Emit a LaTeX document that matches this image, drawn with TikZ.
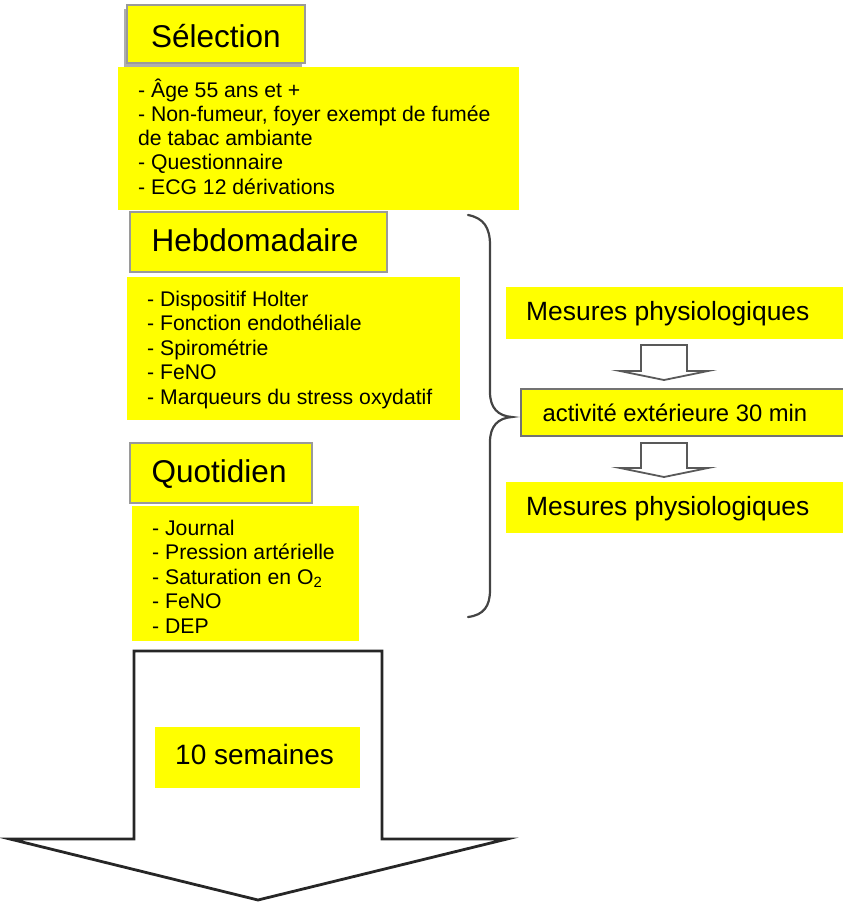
\documentclass[tikz,border=0pt]{standalone}
\usepackage{fontspec}
\setmainfont{Liberation Sans}
\definecolor{ylw}{HTML}{FFFF00}
\definecolor{bordergray}{HTML}{9A9A9A}
\definecolor{bracegray}{HTML}{444444}
\tikzset{
  ybox/.style={fill=ylw, draw=none},
  headbox/.style={fill=ylw, draw=bordergray, line width=1.6pt},
  headtxt/.style={anchor=base west, inner sep=0pt, font=\fontsize{31.5}{36}\selectfont},
  listtxt/.style={anchor=base west, inner sep=0pt, font=\fontsize{21.2}{24}\selectfont},
  sidetxt/.style={anchor=base west, inner sep=0pt, font=\fontsize{26.4}{30}\selectfont},
  acttxt/.style={anchor=base west, inner sep=0pt, font=\fontsize{23.8}{28}\selectfont},
  bigarrow/.style={draw=black!85, line width=2.8pt, line join=miter},
  smallarrow/.style={draw=black!65, line width=1.8pt, line join=miter},
  bracestyle/.style={draw=bracegray, line width=2.2pt, line cap=round}
}
\begin{document}
\begin{tikzpicture}[x=1pt,y=-1pt]
\useasboundingbox (0,0) rectangle (843,903);

% big arrow
\draw[bigarrow] (134,651) coordinate (ba1) -- (382,651) -- (382,839) -- (507,839) -- (258,900) coordinate (batip) -- (10,839) -- (134,839) -- cycle;
\fill[ylw] (155,727) rectangle (360,788);
\node[headtxt, font=\fontsize{28}{32}\selectfont] (sem) at (175,764) {10 semaines};

% brace
\draw[bracestyle] (468,215) coordinate (brtop)
  .. controls (484,218) and (490,228) .. (490,245)
  -- (490,392)
  .. controls (490,408) and (498,416) .. (512,417) coordinate (brtip)
  .. controls (498,418) and (490,426) .. (490,442)
  -- (490,590)
  .. controls (490,606) and (484,615) .. (468,617) coordinate (brbot);

% Selection
\fill[bordergray!80] (124,9) rectangle (302,67);
\draw[headbox] (127,5) rectangle (305,63);
\node[headtxt] (sel) at (151,47) {Sélection};
\fill[ylw] (118,67) rectangle (519,210);
\node[listtxt] (s1) at (138,97) {- Âge 55 ans et +};
\node[listtxt] (s2) at (138,121) {- Non-fumeur, foyer exempt de fumée};
\node[listtxt] (s3) at (138,145.5) {de tabac ambiante};
\node[listtxt] (s4) at (138,169.5) {- Questionnaire};
\node[listtxt] (s5) at (138,194) {- ECG 12 dérivations};

% Hebdomadaire
\draw[headbox] (130,212) rectangle (387,272);
\node[headtxt] (heb) at (151.5,251.5) {Hebdomadaire};
\fill[ylw] (127,277) rectangle (460,420);
\node[listtxt] (h1) at (147,306) {- Dispositif Holter};
\node[listtxt] (h2) at (147,330.5) {- Fonction endothéliale};
\node[listtxt] (h3) at (147,355) {- Spirométrie};
\node[listtxt] (h4) at (147,379.5) {- FeNO};
\node[listtxt] (h5) at (147,404) {- Marqueurs du stress oxydatif};

% Quotidien
\draw[headbox] (130,443) rectangle (312,503);
\node[headtxt] (quo) at (151.5,482.5) {Quotidien};
\fill[ylw] (132,506) rectangle (359,641);
\node[listtxt] (q1) at (152,535) {- Journal};
\node[listtxt] (q2) at (152,559.5) {- Pression artérielle};
\node[listtxt] (q3) at (152,584) {- Saturation en O\textsubscript{2}};
\node[listtxt] (q4) at (152,608.5) {- FeNO};
\node[listtxt] (q5) at (152,633) {- DEP};

% right column
\fill[ylw] (506,287) rectangle (843,339);
\node[sidetxt] (m1) at (526,320.5) {Mesures physiologiques};
\draw[smallarrow] (641,345) -- (687,345) -- (687,371) -- (708,371) -- (664,380) -- (620,371) -- (641,371) -- cycle;
\draw[fill=ylw, draw=black!55, line width=1.6pt] (521,389) rectangle (846,436);
\node[acttxt] (act) at (542.5,421.5) {activité extérieure 30 min};
\draw[smallarrow] (641,443) -- (687,443) -- (687,468) -- (708,468) -- (664,477) -- (620,468) -- (641,468) -- cycle;
\fill[ylw] (506,482) rectangle (843,533);
\node[sidetxt] (m2) at (526,515) {Mesures physiologiques};
\end{tikzpicture}
\end{document}
